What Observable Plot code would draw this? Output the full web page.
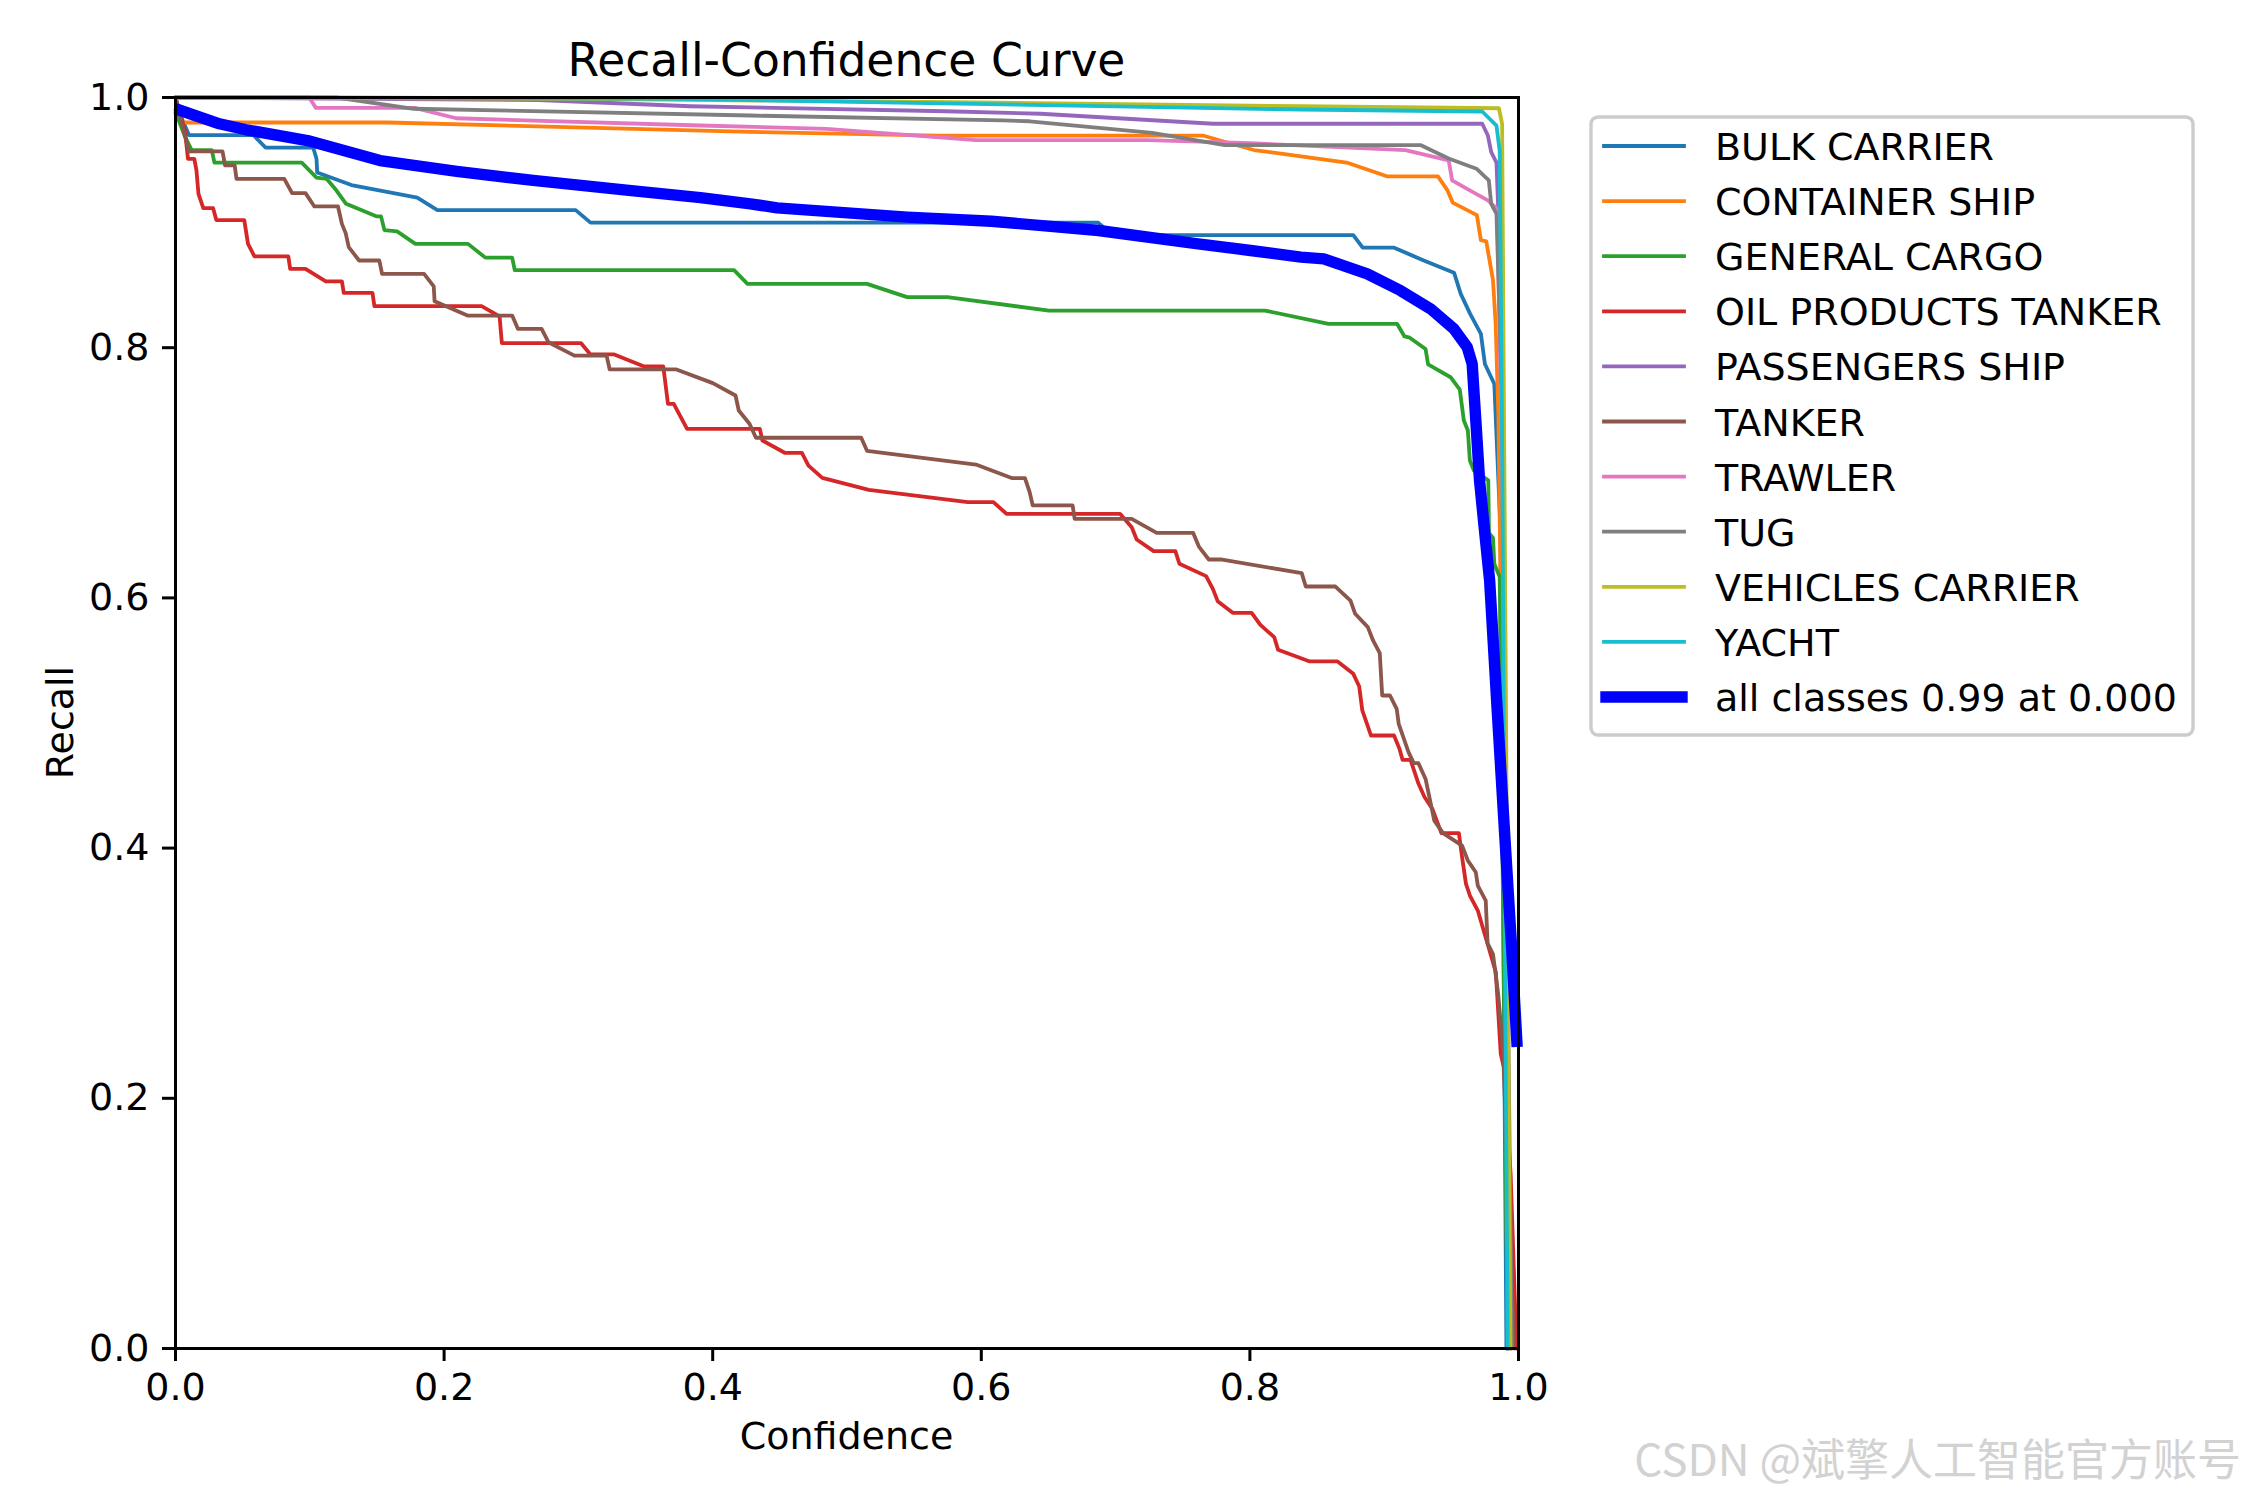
<!DOCTYPE html>
<html>
<head>
<meta charset="utf-8">
<script src="https://cdn.jsdelivr.net/npm/d3@7"></script>
<script src="https://cdn.jsdelivr.net/npm/@observablehq/plot@0.6"></script>
<style>
  html, body { margin: 0; padding: 0; background: #ffffff; }
  #chart svg { display: block; max-width: none; }
</style>
</head>
<body>
<div id="chart"></div>
<script>
// ---------------- data ----------------
const classNames = ["BULK CARRIER", "CONTAINER SHIP", "GENERAL CARGO", "OIL PRODUCTS TANKER",
  "PASSENGERS SHIP", "TANKER", "TRAWLER", "TUG", "VEHICLES CARRIER", "YACHT"];
const classColors = ["#1f77b4", "#ff7f0e", "#2ca02c", "#d62728", "#9467bd",
  "#8c564b", "#e377c2", "#7f7f7f", "#bcbd22", "#17becf"];
const allLabel = "all classes 0.99 at 0.000";
const allColor = "#0000ff";
const confTicks = [0, 0.2, 0.4, 0.6, 0.8, 1.0];
const recallTicks = [0, 0.2, 0.4, 0.6, 0.8, 1.0];

const bulkCarrierConf   = [0, 0.004, 0.010, 0.058, 0.067, 0.1025, 0.105, 0.1055, 0.131, 0.180, 0.195, 0.298, 0.309, 0.687, 0.698, 0.877, 0.884, 0.907, 0.929, 0.952, 0.957, 0.964, 0.972, 0.975, 0.982, 0.9866, 0.989, 0.991];
const bulkCarrierRecall = [1.0, 0.985, 0.970, 0.970, 0.960, 0.960, 0.951, 0.940, 0.930, 0.920, 0.910, 0.910, 0.900, 0.900, 0.890, 0.890, 0.880, 0.880, 0.870, 0.860, 0.843, 0.827, 0.811, 0.787, 0.771, 0.654, 0.300, 0.0];

const containerShipConf   = [0, 0.006, 0.158, 0.428, 0.567, 0.765, 0.783, 0.803, 0.838, 0.872, 0.902, 0.940, 0.947, 0.951, 0.969, 0.972, 0.976, 0.981, 0.983, 0.985, 0.988, 0.992];
const containerShipRecall = [0.988, 0.980, 0.980, 0.9725, 0.9696, 0.9696, 0.964, 0.958, 0.953, 0.948, 0.937, 0.937, 0.926, 0.916, 0.906, 0.886, 0.885, 0.854, 0.819, 0.747, 0.500, 0.0];

const generalCargoConf   = [0, 0.003, 0.007, 0.012, 0.027, 0.029, 0.094, 0.105, 0.1125, 0.1196, 0.127, 0.1495, 0.153, 0.1556, 0.165, 0.1786, 0.2178, 0.2307, 0.2507, 0.2526, 0.4159, 0.4259, 0.5149, 0.5448, 0.5747, 0.6503, 0.8113, 0.8585, 0.9097, 0.9151, 0.919, 0.9308, 0.9327, 0.9494, 0.9563, 0.9593, 0.9623, 0.9638, 0.9668, 0.9775, 0.978, 0.981, 0.982, 0.986, 0.989, 0.992];
const generalCargoRecall = [0.99, 0.980, 0.969, 0.958, 0.958, 0.948, 0.948, 0.936, 0.935, 0.926, 0.915, 0.905, 0.905, 0.894, 0.893, 0.883, 0.883, 0.872, 0.872, 0.862, 0.862, 0.851, 0.851, 0.8404, 0.8404, 0.8297, 0.8297, 0.819, 0.819, 0.809, 0.808, 0.799, 0.7866, 0.7764, 0.7664, 0.7418, 0.7338, 0.7098, 0.7018, 0.694, 0.652, 0.648, 0.627, 0.617, 0.300, 0.0];

const oilTankerConf   = [0, 0.007, 0.0093, 0.014, 0.0156, 0.0171, 0.0207, 0.028, 0.0304, 0.0512, 0.054, 0.0588, 0.084, 0.0854, 0.0968, 0.1119, 0.1239, 0.1253, 0.1467, 0.1481, 0.2279, 0.2413, 0.243, 0.302, 0.309, 0.3267, 0.349, 0.3632, 0.3667, 0.371, 0.3809, 0.4351, 0.437, 0.4536, 0.4664, 0.4713, 0.4816, 0.5163, 0.5899, 0.609, 0.6188, 0.7033, 0.712, 0.7157, 0.7283, 0.7445, 0.7475, 0.7674, 0.7725, 0.776, 0.7872, 0.8013, 0.8078, 0.8181, 0.821, 0.8446, 0.8653, 0.877, 0.8814, 0.8837, 0.8902, 0.9073, 0.9114, 0.9137, 0.9196, 0.9255, 0.930, 0.9358, 0.9426, 0.9556, 0.958, 0.9609, 0.9638, 0.9697, 0.9741, 0.9769, 0.9831, 0.9868, 0.9893, 0.9942, 0.9985];
const oilTankerRecall = [1.0, 0.9736, 0.951, 0.951, 0.9417, 0.923, 0.9115, 0.9115, 0.902, 0.902, 0.883, 0.873, 0.873, 0.863, 0.863, 0.853, 0.853, 0.8438, 0.8438, 0.8332, 0.8332, 0.825, 0.8036, 0.8036, 0.7946, 0.7946, 0.785, 0.785, 0.7551, 0.7551, 0.7351, 0.7351, 0.7258, 0.716, 0.716, 0.7058, 0.6959, 0.6864, 0.6766, 0.6766, 0.6672, 0.6672, 0.6565, 0.6467, 0.6374, 0.6374, 0.6273, 0.6174, 0.607, 0.5974, 0.5881, 0.5881, 0.5785, 0.5686, 0.5585, 0.5492, 0.5492, 0.5393, 0.5292, 0.510, 0.490, 0.490, 0.4793, 0.4705, 0.4705, 0.4516, 0.4408, 0.4315, 0.412, 0.412, 0.3927, 0.3714, 0.3621, 0.3501, 0.334, 0.3238, 0.301, 0.2354, 0.2239, 0.1383, 0.0];

const passengersShipConf   = [0, 0.27, 0.383, 0.5734, 0.644, 0.7727, 0.973, 0.9772, 0.9797, 0.9836, 0.987, 0.990, 0.994];
const passengersShipRecall = [1.0, 0.998, 0.993, 0.989, 0.987, 0.979, 0.979, 0.9696, 0.9563, 0.948, 0.850, 0.500, 0.0];

const tankerConf   = [0, 0.0099, 0.035, 0.0369, 0.0441, 0.0454, 0.081, 0.0868, 0.0968, 0.1034, 0.121, 0.1239, 0.1267, 0.129, 0.1367, 0.1518, 0.1538, 0.1851, 0.1923, 0.1929, 0.2174, 0.2507, 0.255, 0.2726, 0.2777, 0.297, 0.321, 0.3233, 0.373, 0.4001, 0.417, 0.4194, 0.4274, 0.4322, 0.5106, 0.5149, 0.596, 0.6231, 0.6325, 0.636, 0.6383, 0.668, 0.6695, 0.712, 0.7306, 0.7577, 0.762, 0.7694, 0.7783, 0.8386, 0.8416, 0.8637, 0.8749, 0.8784, 0.8878, 0.8917, 0.8967, 0.8985, 0.9043, 0.9093, 0.9108, 0.9181, 0.922, 0.9255, 0.9308, 0.9373, 0.9438, 0.958, 0.9623, 0.9682, 0.9697, 0.9756, 0.977, 0.981, 0.9848, 0.9885, 0.9968];
const tankerRecall = [1.0, 0.957, 0.957, 0.9457, 0.9457, 0.935, 0.935, 0.9236, 0.9236, 0.9129, 0.9129, 0.899, 0.8916, 0.8804, 0.8697, 0.8697, 0.859, 0.859, 0.849, 0.8372, 0.8257, 0.8257, 0.815, 0.815, 0.8044, 0.7937, 0.7937, 0.7826, 0.7826, 0.7717, 0.7618, 0.7498, 0.7392, 0.728, 0.728, 0.7176, 0.7066, 0.6957, 0.6957, 0.6845, 0.6739, 0.6739, 0.6632, 0.6632, 0.652, 0.652, 0.641, 0.6307, 0.6307, 0.6198, 0.6091, 0.6091, 0.5979, 0.5873, 0.5766, 0.566, 0.5558, 0.522, 0.522, 0.5113, 0.4993, 0.4767, 0.4679, 0.4679, 0.4553, 0.422, 0.412, 0.402, 0.390, 0.3807, 0.370, 0.358, 0.3238, 0.3153, 0.284, 0.238, 0.0];

const trawlerConf   = [0, 0.0996, 0.1045, 0.178, 0.209, 0.391, 0.4848, 0.596, 0.724, 0.8004, 0.9158, 0.948, 0.9506, 0.9617, 0.9772, 0.9841, 0.988, 0.991, 0.993];
const trawlerRecall = [1.0, 1.0, 0.9917, 0.9917, 0.9834, 0.9776, 0.975, 0.966, 0.966, 0.9635, 0.958, 0.9497, 0.9337, 0.927, 0.9177, 0.911, 0.700, 0.300, 0.0];

const tugConf   = [0, 0.12, 0.1774, 0.428, 0.616, 0.636, 0.7272, 0.7813, 0.927, 0.948, 0.9687, 0.9779, 0.9797, 0.9836, 0.988, 0.991, 0.995];
const tugRecall = [1.0, 1.0, 0.991, 0.9856, 0.9817, 0.981, 0.9717, 0.962, 0.962, 0.9512, 0.9431, 0.9337, 0.915, 0.907, 0.750, 0.400, 0.0];

const vehiclesCarrierConf   = [0, 0.3, 0.6, 0.838, 0.9854, 0.9878, 0.9895, 0.992, 0.994];
const vehiclesCarrierRecall = [1.0, 0.999, 0.996, 0.993, 0.9914, 0.979, 0.700, 0.300, 0.0];

const yachtConf   = [0, 0.1, 0.371, 0.763, 0.838, 0.973, 0.9836, 0.986, 0.988, 0.990, 0.992];
const yachtRecall = [1.0, 1.0, 0.999, 0.9917, 0.9904, 0.9888, 0.9776, 0.957, 0.700, 0.300, 0.0];

const allClassesConf   = [0, 0.0327, 0.0526, 0.0983, 0.1523, 0.2094, 0.2663, 0.3376, 0.3909, 0.428, 0.4479, 0.5448, 0.6075, 0.6873, 0.7614, 0.8005, 0.838, 0.855, 0.8874, 0.9121, 0.9345, 0.9519, 0.9618, 0.9655, 0.9687, 0.971, 0.9742, 0.9785, 0.9843, 0.9903, 0.9948, 0.999];
const allClassesRecall = [0.991, 0.979, 0.9742, 0.9656, 0.9496, 0.941, 0.9337, 0.9257, 0.920, 0.915, 0.9118, 0.9044, 0.9011, 0.8937, 0.883, 0.8777, 0.8724, 0.871, 0.859, 0.8457, 0.8311, 0.815, 0.8004, 0.7871, 0.7338, 0.6938, 0.6592, 0.614, 0.5076, 0.4007, 0.322, 0.241];

// ---------------- tables ----------------
const classConf = [bulkCarrierConf, containerShipConf, generalCargoConf, oilTankerConf, passengersShipConf,
  tankerConf, trawlerConf, tugConf, vehiclesCarrierConf, yachtConf];
const classRecall = [bulkCarrierRecall, containerShipRecall, generalCargoRecall, oilTankerRecall, passengersShipRecall,
  tankerRecall, trawlerRecall, tugRecall, vehiclesCarrierRecall, yachtRecall];

const table = classNames.flatMap((name, i) =>
  classConf[i].map((c, j) => ({cls: name, conf: c, recall: classRecall[i][j]})));
const allTable = allClassesConf.map((c, j) => ({conf: c, recall: allClassesRecall[j]}));

const fmt = d3.format(".1f");
const FONT = "'DejaVu Sans', 'Liberation Sans', sans-serif";
const FS = 38;      // tick / label / legend font size
const FS_TITLE = 45.6;

const chart = Plot.plot({
  width: 2250,
  height: 1500,
  marginLeft: 175,
  marginRight: 732,
  marginTop: 97,
  marginBottom: 152,
  style: {background: "white", color: "black", fontFamily: FONT, fontSize: FS + "px", overflow: "visible"},
  x: {domain: [0, 1]},
  y: {domain: [0, 1]},
  color: {domain: classNames, range: classColors},
  marks: [
    Plot.line(table, {x: "conf", y: "recall", z: "cls", stroke: "cls", strokeWidth: 3.8, strokeLinejoin: "round"}),
    Plot.line(allTable, {x: "conf", y: "recall", stroke: allColor, strokeWidth: 11.4, strokeLinejoin: "round", strokeLinecap: "butt"}),
    Plot.frame({stroke: "black", strokeWidth: 3}),
    Plot.axisX({ticks: confTicks, tickFormat: fmt, tickSize: 13, tickPadding: 12, fontSize: FS, label: null, strokeWidth: 3}),
    Plot.axisY({ticks: recallTicks, tickFormat: fmt, tickSize: 13, tickPadding: 13, fontSize: FS, label: null, strokeWidth: 3})
  ]
});

document.getElementById("chart").appendChild(chart);

// ---------------- titles, labels, legend, watermark ----------------
const svg = d3.select(chart);
const cx = (175 + (2250 - 732)) / 2;

svg.append("text").attr("x", cx).attr("y", 76).attr("text-anchor", "middle")
  .attr("font-family", FONT).attr("font-size", FS_TITLE).attr("fill", "black")
  .text("Recall-Confidence Curve");

svg.append("text").attr("x", cx).attr("y", 1449).attr("text-anchor", "middle")
  .attr("font-family", FONT).attr("font-size", FS).attr("fill", "black")
  .text("Confidence");

svg.append("text").attr("transform", "translate(73,722.5) rotate(-90)").attr("text-anchor", "middle")
  .attr("font-family", FONT).attr("font-size", FS).attr("fill", "black")
  .text("Recall");

const lg = svg.append("g");
lg.append("rect").attr("x", 1591).attr("y", 117).attr("width", 602).attr("height", 618)
  .attr("rx", 7).attr("ry", 7).attr("fill", "white").attr("fill-opacity", 0.8)
  .attr("stroke", "#cccccc").attr("stroke-width", 3.4);

const legendNames = classNames.concat([allLabel]);
const legendColors = classColors.concat([allColor]);
legendNames.forEach((name, i) => {
  const y = 146 + i * 55.1;
  const isAll = i === classNames.length;
  lg.append("line")
    .attr("x1", isAll ? 1606 : 1604).attr("x2", isAll ? 1682 : 1684)
    .attr("y1", y).attr("y2", y)
    .attr("stroke", legendColors[i]).attr("stroke-width", isAll ? 11.4 : 3.8)
    .attr("stroke-linecap", "square");
  lg.append("text").attr("x", 1715).attr("y", y + 14)
    .attr("text-anchor", "start")
    .attr("font-family", FONT).attr("font-size", FS).attr("fill", "black")
    .text(name);
});

svg.append("text").attr("x", 2241).attr("y", 1476).attr("text-anchor", "end")
  .attr("font-family", "'Noto Sans CJK SC', sans-serif").attr("font-size", 44)
  .attr("fill", "#d2d2d2")
  .text("CSDN @斌擎人工智能官方账号");
</script>
</body>
</html>
